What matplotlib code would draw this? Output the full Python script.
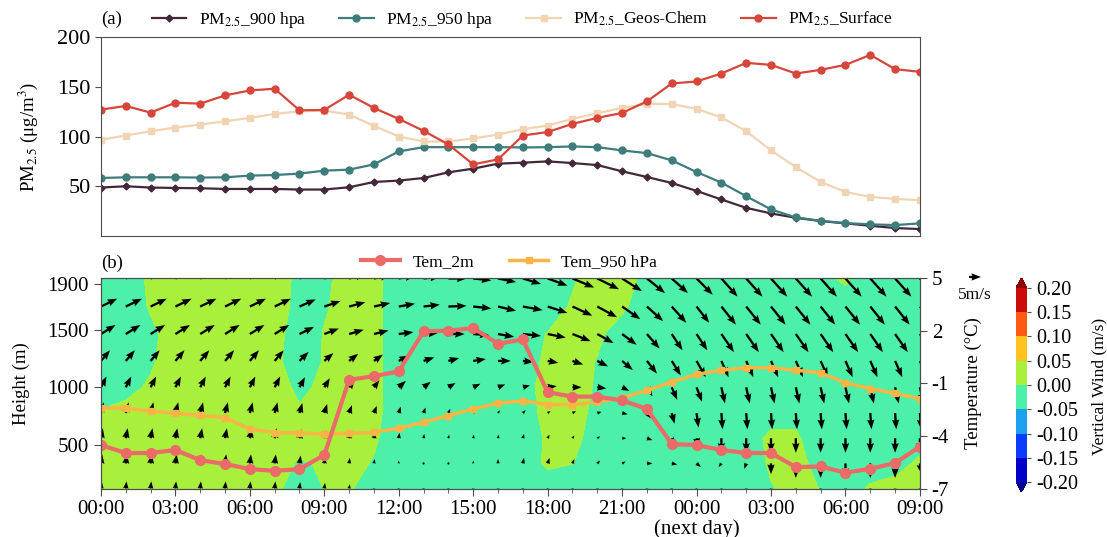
import numpy as np
import matplotlib
matplotlib.use('Agg')
import matplotlib.pyplot as plt
from matplotlib.colors import ListedColormap, BoundaryNorm

plt.rcParams['font.family'] = ['Liberation Serif', 'DejaVu Serif']
plt.rcParams['mathtext.fontset'] = 'stix'
plt.rcParams['axes.unicode_minus'] = False

# time axis (hourly, 00:00 day 1 -> 09:00 next day)
hours = list(range(34))
tick_hours = [0, 3, 6, 9, 12, 15, 18, 21, 24, 27, 30, 33]
tick_labels = ['00:00', '03:00', '06:00', '09:00', '12:00', '15:00', '18:00', '21:00',
               '00:00\n(next day)', '03:00', '06:00', '09:00']

# (a) PM2.5 (ug/m3)
pm_900 = [48.7, 50, 48.7, 48.3, 48, 47.3, 47.3, 47.3, 46.7, 46.7,
          49, 54.3, 55.7, 58.3, 64, 67.7, 72.7, 73.7,
          75, 73.3, 71.3, 65, 59.3, 53.3, 45.3, 36.7, 28.3, 22.7, 18.3, 15, 12.7, 10.3, 8, 7]
pm_950 = [58.3, 59, 59, 59, 58.7, 59, 60.7, 61.3, 62.7, 65.7,
          66.7, 72, 85, 89.3, 89.3, 89.3, 89.3, 89,
          89.3, 90, 89.3, 86, 83.3, 76, 64.3, 53.7, 40, 26.7, 18.7, 15.3, 13, 11.7, 11, 12.7]
pm_geos = [96.7, 101, 105.3, 109, 112, 115.3, 118.7, 122.7, 125.3, 126,
           122, 110.7, 100, 95, 95, 98, 102, 107.3,
           111, 117.7, 123.3, 128.7, 132.7, 132.7, 127.7, 119.3, 105.3, 86, 69.3, 54.3, 44.3, 39.3, 37.3, 36]
pm_surface = [127, 130.7, 124, 134, 133, 141.3, 146.3, 148, 126.3, 126.7,
              142, 128.7, 117.7, 105.7, 92, 72, 77, 101,
              104.5, 112.7, 118.7, 123.7, 135.3, 153.3, 155.3, 163.3, 174, 172, 163.3, 167, 172, 182, 167.7, 165]

# (b) temperature (degC)
tem_2m = [-4.52, -4.97, -4.97, -4.80, -5.38, -5.6, -5.89, -5.99, -5.89, -5.09,
          -0.79, -0.58, -0.31, 1.98, 2.02, 2.17, 1.27, 1.52,
          -1.5, -1.75, -1.75, -1.97, -2.45, -4.46, -4.52, -4.80, -4.97, -4.97, -5.78, -5.74, -6.1, -5.87, -5.55, -4.6]
tem_950 = [-2.38, -2.42, -2.57, -2.71, -2.82, -2.95, -3.6, -3.8, -3.82, -3.89,
           -3.85, -3.79, -3.56, -3.22, -2.83, -2.45, -2.13, -2.0,
           -2.2, -2.2, -2.06, -1.82, -1.4, -0.91, -0.48, -0.24, -0.1, -0.1, -0.24, -0.39, -0.96, -1.29, -1.57, -1.86]

# (b) vertical section: heights of model levels (m)
heights = [116, 335, 555, 775, 1000, 1230, 1465, 1705, 1950]

# vertical wind (m/s), rows = heights (bottom -> top), cols = hours
vertical_wind = [
    [0.02, 0.02, 0.02, 0.02, 0.02, 0.02, 0.02, 0.009, -0.02, 0.001, 0.004, -0.02, -0.02, -0.02, -0.02, -0.02, -0.02, -0.02, -0.03, -0.03,
     -0.02, -0.02, -0.02, -0.02, -0.02, -0.02, -0.02, -0.004, 0.02, -0.002, -0.02, 0.005, 0.02, 0.02],
    [0.02, 0.02, 0.02, 0.02, 0.02, 0.02, 0.02, 0.008, -0.002, 0.002, 0.02, -0.005, -0.02, -0.02, -0.02, -0.02, -0.02, -0.03, 0.01, 0.001,
     -0.02, -0.02, -0.02, -0.02, -0.02, -0.02, -0.04, 0.01, 0.01, -0.01, -0.02, -0.02, -0.02, 0.01],
    [0.02, 0.02, 0.02, 0.02, 0.02, 0.02, 0.02, 0.02, 0.01, 0.02, 0.02, 0.01, -0.04, -0.02, -0.02, -0.02, -0.02, -0.04, 0.01, 0.01,
     -0.015, -0.02, -0.02, -0.02, -0.02, -0.02, -0.02, 0.01, 0.01, -0.04, -0.02, -0.02, -0.02, -0.02],
    [0.005, 0.02, 0.02, 0.02, 0.02, 0.02, 0.02, 0.02, 0.006, 0.02, 0.02, 0.015, -0.03, -0.02, -0.02, -0.02, -0.02, -0.03, 0.02, 0.015,
     -0.01, -0.02, -0.02, -0.02, -0.02, -0.02, -0.02, -0.02, -0.02, -0.02, -0.02, -0.02, -0.02, -0.02],
    [-0.03, -0.02, 0.01, 0.02, 0.02, 0.02, 0.02, 0.02, -0.01, 0.01, 0.02, 0.015, -0.03, -0.02, -0.02, -0.02, -0.02, -0.02, 0.02, 0.02,
     -0.005, -0.02, -0.02, -0.02, -0.02, -0.02, -0.02, -0.02, -0.02, -0.02, -0.02, -0.02, -0.02, -0.02],
    [-0.03, -0.03, -0.01, 0.04, 0.02, 0.02, 0.02, 0.015, -0.035, 0.004, 0.02, 0.015, -0.03, -0.02, -0.02, -0.02, -0.02, -0.03, 0.013, 0.02,
     -0.002, -0.02, -0.02, -0.02, -0.02, -0.02, -0.02, -0.02, -0.02, -0.02, -0.02, -0.02, -0.02, -0.02],
    [-0.03, -0.03, -0.01, 0.02, 0.02, 0.02, 0.02, 0.02, -0.03, 0.003, 0.02, 0.015, -0.03, -0.02, -0.02, -0.02, -0.02, -0.03, 0.003, 0.02,
     0.01, -0.025, -0.02, -0.02, -0.02, -0.02, -0.02, -0.02, -0.02, -0.02, -0.02, -0.02, -0.02, -0.02],
    [-0.03, -0.03, 0.005, 0.02, 0.02, 0.02, 0.02, 0.03, -0.02, -0.005, 0.02, 0.015, -0.03, -0.02, -0.02, -0.02, -0.02, -0.02, -0.04, 0.01,
     0.02, 0.01, -0.03, -0.02, -0.02, -0.02, -0.02, -0.02, -0.02, -0.02, -0.03, -0.02, -0.02, -0.02],
    [-0.03, -0.03, 0.01, 0.02, 0.02, 0.02, 0.02, 0.03, -0.015, -0.01, 0.02, 0.015, -0.03, -0.02, -0.02, -0.02, -0.02, -0.02, -0.02, -0.01,
     0.04, 0.03, -0.02, -0.02, -0.02, -0.02, -0.02, -0.02, -0.02, -0.015, 0.01, -0.04, -0.02, -0.02],
]

# horizontal wind components for the arrows (m/s)
wind_u = [
    [0.3, 0.3, 0.3, 0.3, 0.3, 0.3, 0.3, 0.3, 0.3, 0.3, 0.3, 0, 0, 0, 0, 0, 0, 0, 0, 0, 0, 0, 0, 0, 0, 0, 0, 0, 0, 0, 0, 0, 0, 0],
    [0.5, 0.5, 0.5, 0.5, 0.5, 0.5, 0.5, 0.5, 0.5, 0.3, 0.3, 0.3, 0, 0, 0, 0, 0, 0.5, 0.8, 0.8,
     1.2, 1.5, 2.3, 2.3, 1.8, -1.2, -0.8, 0, 0, 0, 0, 0, 0, 0.8],
    [0.8, 0.8, 0.8, 0.8, 0.8, 0.8, 0.8, 0.8, 0.8, 0.5, 0.5, 0.5, 0.3, 0.3, 0.3, 0.3, 0.3, 0.5, 0.8, 0.8,
     1.2, 1.8, 2.3, 1.5, 0.8, 0, 0, 0, 0, 0, 0, 0, 0, 0],
    [1.2, 1.2, 1.2, 1.2, 1.2, 1.2, 1.2, 1.2, 1.2, 1.2, 1.2, 1.2, 0.8, 0.8, 0.8, 0.8, 0.8, 1.2, 1.2, 1.5,
     1.8, 2.3, 1.8, 1.2, 0.8, 0.5, 0.5, 0.5, 0.5, 0.5, 0.5, 0.5, 0.5, 0.5],
    [2.3, 2.3, 2.3, 2.3, 2.3, 2.3, 2.3, 2.3, 2.3, 2.3, 2.3, 2.3, 3.0, 3.0, 3.0, 3.0, 3.0, 3.0, 3.8, 3.8,
     3.8, 3.0, 2.3, 2.3, 2.3, 1.5, 1.5, 1.5, 1.5, 1.5, 1.5, 1.5, 1.5, 1.5],
    [3.8, 3.8, 3.8, 3.8, 3.8, 3.8, 3.8, 3.8, 3.8, 3.8, 3.8, 3.8, 4.2, 4.5, 4.5, 5.3, 5.3, 4.5, 4.5, 4.5,
     4.5, 4.5, 4.2, 3.8, 3.8, 3.0, 3.0, 3.0, 3.0, 3.0, 3.0, 3.0, 3.0, 3.0],
    [6.1, 6.1, 6.1, 6.1, 6.1, 6.1, 6.1, 6.1, 6.1, 6.1, 6.1, 6.1, 6.1, 6.1, 6.8, 6.8, 6.8, 7.6, 7.6, 7.6,
     6.8, 6.1, 5.3, 4.5, 4.5, 5.3, 5.3, 5.3, 5.3, 5.3, 5.3, 5.3, 5.3, 5.3],
    [6.8, 6.8, 6.8, 6.8, 6.8, 6.8, 6.8, 6.8, 6.8, 6.8, 6.8, 6.8, 6.8, 6.8, 7.6, 7.6, 7.6, 8.3, 8.3, 8.3,
     8.3, 7.6, 6.8, 6.1, 5.3, 6.1, 6.1, 6.1, 6.1, 6.1, 6.1, 6.1, 6.1, 6.1],
    [6.8, 6.8, 6.8, 6.8, 6.8, 6.8, 6.8, 6.8, 6.8, 6.8, 6.8, 6.8, 6.8, 6.8, 7.6, 7.6, 7.6, 7.6, 8.3, 9.1,
     9.1, 8.3, 7.6, 6.8, 6.8, 6.8, 6.8, 6.8, 6.8, 6.8, 6.8, 6.8, 6.8, 6.8],
]
wind_v = [
    [3.0, 3.0, 3.0, 3.0, 3.0, 3.0, 3.0, 3.0, 2.7, 2.3, 1.8, -1.5, -1.5, -1.5, -1.5, -1.5, -1.5, -1.5, -1.5, -1.5,
     -1.5, -1.5, -1.5, -1.5, -1.5, -1.5, -1.5, -1.5, -1.5, -1.5, -1.5, -1.5, -1.5, -1.5],
    [3.8, 3.8, 3.8, 3.8, 3.8, 3.8, 3.8, 3.8, 3.3, 2.7, 2.3, 1.8, 1.2, 0.8, 0.8, 1.2, 1.8, 2.3, 2.3, 1.8,
     1.2, 0.8, 0, -0.5, -1.5, -1.5, -2.3, -4.5, -6.1, -6.1, -6.1, -6.1, -6.1, -4.5],
    [4.2, 4.2, 4.2, 4.2, 4.2, 4.2, 4.2, 4.2, 3.8, 3.3, 3.0, 2.7, 2.3, 1.8, 1.5, 1.5, 1.5, 1.8, 1.5, 1.2,
     0.8, 0, -0.8, -2.3, -3.8, -6.1, -6.1, -6.1, -6.1, -6.1, -6.1, -6.1, -6.1, -6.1],
    [4.5, 4.5, 4.5, 4.5, 4.5, 4.5, 4.5, 4.5, 4.2, 3.8, 3.3, 3.0, 2.7, 2.3, 1.8, 1.5, 1.2, 1.2, 0.9, 0.8,
     0.5, -0.5, -2.3, -4.5, -6.1, -6.8, -6.8, -6.8, -6.8, -6.8, -6.8, -6.8, -6.8, -6.8],
    [4.5, 4.5, 4.5, 4.5, 4.5, 4.5, 4.5, 4.5, 4.2, 3.8, 3.3, 3.0, 2.7, 2.3, 1.8, 1.5, 1.2, 0.8, 0.5, 0,
     -0.5, -1.5, -3.8, -5.3, -6.1, -6.8, -6.8, -6.8, -6.8, -6.8, -6.8, -6.8, -6.8, -6.8],
    [4.5, 4.5, 4.5, 4.5, 4.5, 4.5, 4.5, 4.5, 3.8, 3.3, 3.0, 2.7, 2.3, 1.5, 1.2, 0.8, 0, -0.5, -0.8, -1.5,
     -2.3, -3.8, -5.3, -6.1, -6.8, -6.8, -6.8, -6.8, -6.8, -6.8, -6.8, -6.8, -6.8, -6.8],
    [3.8, 3.8, 3.8, 3.8, 3.8, 3.8, 3.8, 3.8, 3.0, 2.3, 1.8, 1.5, 0.8, 0.5, 0, -0.5, -1.2, -0.8, -1.5, -3.0,
     -3.8, -4.5, -6.1, -6.8, -6.8, -7.6, -7.6, -7.6, -7.6, -7.6, -7.6, -7.6, -7.6, -7.6],
    [3.3, 3.3, 3.3, 3.3, 3.3, 3.3, 3.3, 3.3, 3.0, 2.3, 1.8, 1.5, 1.2, 0.8, 0.3, -0.8, -1.8, -1.5, -2.7, -3.8,
     -4.5, -5.3, -6.1, -6.8, -6.8, -7.6, -7.6, -7.6, -7.6, -7.6, -7.6, -7.6, -7.6, -7.6],
    [3.3, 3.3, 3.3, 3.3, 3.3, 3.3, 3.3, 3.3, 3.0, 2.3, 1.8, 1.5, 1.2, 0.8, 0, -0.8, -1.5, -2.3, -3.0, -3.8,
     -4.5, -5.3, -6.1, -6.1, -6.8, -7.6, -7.6, -7.6, -7.6, -7.6, -7.6, -7.6, -7.6, -7.6],
]

wind_levels = [-0.20, -0.15, -0.10, -0.05, 0.00, 0.05, 0.10, 0.15, 0.20]
wind_colors = ['#0000c8', '#0a3cff', '#1ea0f0', '#4cf0a8', '#a8f03c', '#ffc21e', '#ff5a14', '#cd0a0a']

spine_c = '#4d4d4d'
fig = plt.figure(figsize=(11.07, 5.37), dpi=100)

# ---------- (a) PM2.5 ----------
ax1 = fig.add_axes([0.0912, 0.5605, 0.7398, 0.3706])
ax1.plot(hours, pm_900, color='#43283a', marker='D', ms=3.5, lw=1.6, label='PM$_{2.5}$_900 hpa')
ax1.plot(hours, pm_950, color='#3e7d7b', marker='o', ms=5, lw=1.6, label='PM$_{2.5}$_950 hpa')
ax1.plot(hours, pm_geos, color='#f0d4b4', marker='s', ms=4.5, lw=1.6, label='PM$_{2.5}$_Geos-Chem')
ax1.plot(hours, pm_surface, color='#d6463a', marker='o', ms=5, lw=1.6, label='PM$_{2.5}$_Surface')
ax1.set_xlim(0, 33)
ax1.set_ylim(0, 200)
ax1.set_yticks([50, 100, 150, 200])
ax1.set_xticks([])
ax1.tick_params(axis='y', labelsize=16, length=4, color=spine_c)
for s in ax1.spines.values():
    s.set_color(spine_c)
fig.legend(loc='center', bbox_to_anchor=(0.4716, 0.9628), ncol=4, frameon=False,
           fontsize=12.5, handlelength=2.0, handletextpad=0.7, columnspacing=1.9)
fig.text(0.0912, 0.9646, '(a)', fontsize=13.5, va='center', ha='left')
fig.text(0.026, 0.745, 'PM$_{2.5}$ (μg/m$^3$)', fontsize=13.5, rotation=90, va='center', ha='center')

# ---------- (b) vertical section ----------
axb = fig.add_axes([0.0912, 0.0903, 0.7398, 0.3911])
cmap = ListedColormap(wind_colors)
cmap.set_under('#00008c')
cmap.set_over('#8c0000')
norm = BoundaryNorm(wind_levels, cmap.N)
cf = axb.contourf(hours, heights, vertical_wind, levels=wind_levels, cmap=cmap, norm=norm, extend='both')
q = axb.quiver(hours, heights, wind_u, wind_v, angles='uv', scale_units='inches', scale=42,
               pivot='tail', width=0.0028, headwidth=3.2, headlength=4.2, headaxislength=3.8,
               color='black', zorder=3)
axb.set_xlim(0, 33)
axb.set_ylim(116, 1950)
axb.set_yticks([500, 1000, 1500, 1900])
axb.set_xticks(tick_hours)
axb.set_xticklabels(tick_labels)
axb.set_xticks(hours, minor=True)
axb.tick_params(axis='both', which='major', labelsize=15, length=5, color=spine_c)
axb.tick_params(axis='x', which='minor', length=3, color=spine_c)
for lab in axb.get_xticklabels():
    lab.set_linespacing(1.0)
for s in axb.spines.values():
    s.set_color(spine_c)
fig.text(0.019, 0.286, 'Height (m)', fontsize=13.5, rotation=90, va='center', ha='center')
fig.text(0.0912, 0.5102, '(b)', fontsize=13.5, va='center', ha='left')

ax2 = axb.twinx()
l950, = ax2.plot(hours, tem_950, color='#fbb445', marker='s', ms=5, lw=2.5, label='Tem_950 hPa')
l2m, = ax2.plot(hours, tem_2m, color='#ec6a68', marker='o', ms=7, lw=3, label='Tem_2m')
ax2.set_ylim(-7, 5)
ax2.set_yticks([5, 2, -1, -4, -7])
ax2.tick_params(axis='y', labelsize=15, length=5, color=spine_c)
for s in ax2.spines.values():
    s.set_color(spine_c)
ax2.legend(handles=[l2m, l950], loc='center', bbox_to_anchor=(0.4598, 0.512),
           bbox_transform=fig.transFigure, ncol=2, frameon=False, fontsize=12.5,
           handlelength=2.25, handletextpad=0.75, columnspacing=2.0)
fig.text(0.879, 0.286, 'Temperature (°C)', fontsize=13.5, rotation=90, va='center', ha='center')

axb.quiverkey(q, 0.8808, 0.4842, 5, '5m/s', labelpos='S', coordinates='figure',
              fontproperties={'size': 12.5})

cax = fig.add_axes([0.9178, 0.0838, 0.0099, 0.3985])
cb = fig.colorbar(cf, cax=cax, ticks=wind_levels)
cb.ax.set_yticklabels(['%.2f' % t for t in wind_levels])
cb.ax.tick_params(labelsize=14.5, length=3, color=spine_c)
cb.outline.set_visible(False)
fig.text(0.9935, 0.28, 'Vertical Wind (m/s)', fontsize=12.5, rotation=90, va='center', ha='center')

fig.savefig('out.png', dpi=100)
